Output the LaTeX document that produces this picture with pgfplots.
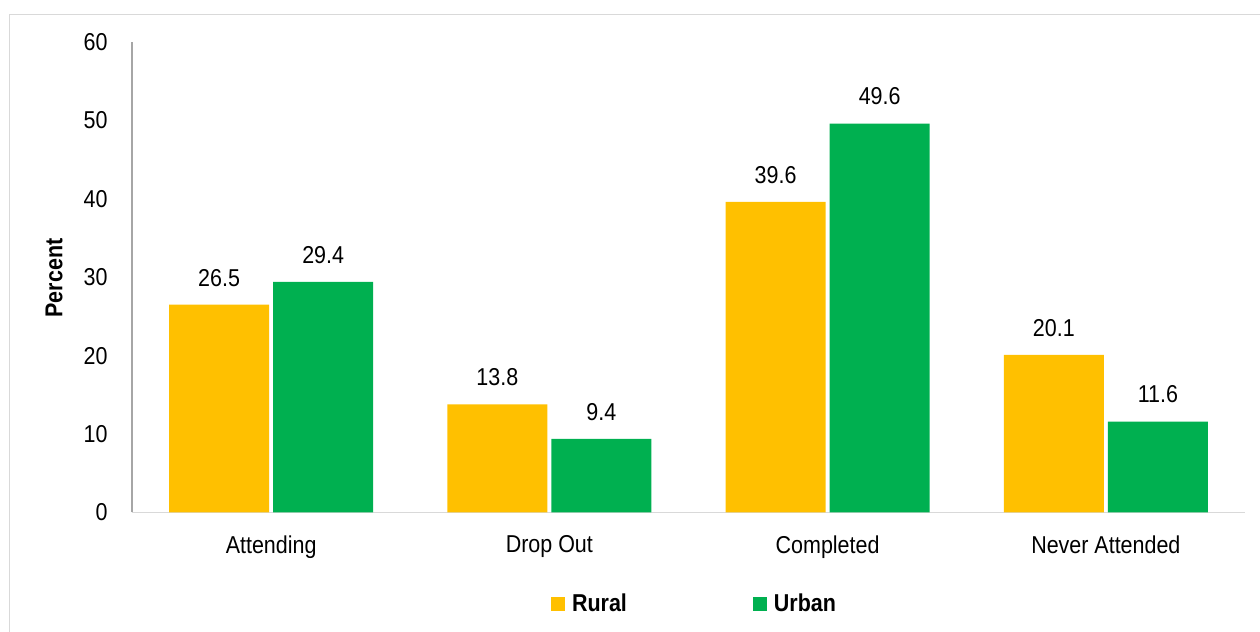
\documentclass[border=0pt]{standalone}
\usepackage{fontspec}
\setmainfont{Liberation Sans}[FakeStretch=0.88]
\usepackage{pgfplots}
\pgfplotsset{compat=1.18}
\definecolor{rural}{HTML}{FFC000}
\definecolor{urban}{HTML}{00B050}
\definecolor{frame}{HTML}{D9D9D9}
\definecolor{yline}{HTML}{A6A6A6}
\newcommand\f{\fontsize{12.2}{14}\selectfont}
\begin{document}
\begin{tikzpicture}
\useasboundingbox (0,0) rectangle (630pt,316pt);
\draw[frame, line width=0.75pt] (4.75pt,-2pt) -- (4.75pt,308.75pt) -- (632pt,308.75pt);
\begin{axis}[
  at={(66pt,59.75pt)}, anchor=south west,
  scale only axis, width=556.5pt, height=235.25pt,
  /pgf/number format/assume math mode=true,
  ybar, bar width=0.359,
  xmin=0.5, xmax=4.5, ymin=0, ymax=60,
  enlarge x limits=false, enlarge y limits=false,
  xtick={1,2,3,4}, xticklabels={Attending,Drop Out,Completed,Never Attended},
  ytick={0,10,...,60},
  major tick length=0pt,
  axis x line*=bottom, axis y line*=left,
  x axis line style={frame, line width=0.75pt, -},
  y axis line style={yline, line width=0.75pt, -},
  xticklabel style={font=\f, anchor=north, inner sep=0pt, yshift=-11.5pt},
  yticklabel style={font=\f, anchor=east, inner sep=0pt, xshift=-12pt},
  ylabel={Percent},
  ylabel style={font=\f\bfseries, at={(axis description cs:-0.0701,0.4984)}, anchor=center},
  nodes near coords,
  nodes near coords style={font=\f, anchor=south, inner sep=0pt, yshift=9pt,
     /pgf/number format/.cd, fixed, precision=1, fixed zerofill},
  clip=false,
  legend columns=2,
  legend image code/.code={\fill[#1] (0pt,-3.5pt) rectangle (7pt,3.5pt);},
  legend style={draw=none, fill=none, inner sep=0pt, outer sep=0pt,
     font=\f\bfseries,
     nodes={inner sep=0pt},
     /tikz/every odd column/.append style={column sep=3.5pt},
     /tikz/every even column/.append style={column sep=63pt},
     at={(axis description cs:0.3765,-0.1945)}, anchor=west},
]
\addplot[fill=rural, draw=none, bar shift=-0.187] coordinates {(1,26.5) (2,13.8) (3,39.6) (4,20.1)};
\addplot[fill=urban, draw=none, bar shift=0.187] coordinates {(1,29.4) (2,9.4) (3,49.6) (4,11.6)};
\legend{Rural,Urban}
\end{axis}
\end{tikzpicture}
\end{document}
